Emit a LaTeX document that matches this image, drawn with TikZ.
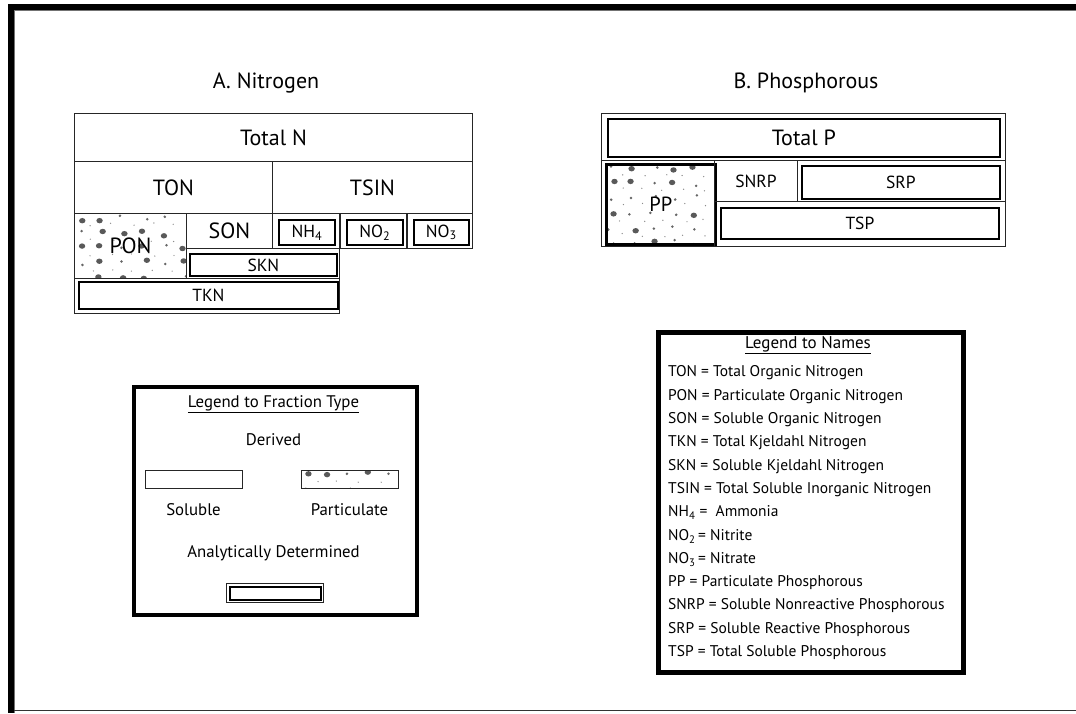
\documentclass[tikz,border=0pt]{standalone}
\usepackage{fontspec}
\setmainfont{PT Sans}
\newcommand\fsz[1]{\fontsize{#1}{#1}\selectfont}
\newcommand\speckle[5]{%
  \begin{scope}
  \clip (#1,#2) rectangle (#3,#4);
  \pgfmathsetmacro\sxa{#1+7}\pgfmathsetmacro\sxb{#1+28}%
  \pgfmathsetmacro\sya{#2+5}\pgfmathsetmacro\syb{#2+20}%
  \foreach \gx in {\sxa,\sxb,...,#3}{%
    \foreach \gy in {\sya,\syb,...,#4}{%
      \pgfmathsetmacro\px{\gx+8*rnd-4}%
      \pgfmathsetmacro\py{\gy+6*rnd-3}%
      \pgfmathsetmacro\qx{\gx+10+6*rnd-3}%
      \pgfmathsetmacro\qy{\gy+7+4*rnd-2}%
      \pgfmathsetmacro\rr{rnd}%
      \ifdim\rr pt<#5pt
        \fill[black!65] (\px,\py) ellipse (3.2pt and 2.7pt);
      \else
        \fill[black!60] (\px,\py) circle (1.4pt);
      \fi
      \fill[black!45] (\qx,\qy) circle (0.7pt);
    }}
  \end{scope}}
\begin{document}
\begin{tikzpicture}[x=1pt,y=-1pt,
  cell/.style={draw=black!85, line width=1pt, inner sep=0pt, anchor=north west},
  anal/.style={draw=black, line width=1.8pt, inner sep=0pt, anchor=north west},
  thickbox/.style={draw=black, inner sep=0pt, anchor=north west},
  big/.style={font=\fsz{22}},
  mid/.style={font=\fsz{17.5}},
  leg/.style={font=\fsz{15.5}, inner sep=0pt},
  legl/.style={font=\fsz{16.8}, inner sep=0pt}
]
\useasboundingbox (0,0) rectangle (1076,713);
\pgfmathsetseed{11}
% frame
\fill[black] (8,4) rectangle (1076,10);
\fill[black] (8,4) rectangle (14,713);
\draw[black!55, line width=1.2pt] (14.6,713) -- (14.6,10.6) -- (1076,10.6);
\draw[black!80, line width=1.3pt] (14,710.8) -- (1076,710.8);

% ---------------- Nitrogen
\node[font=\fsz{22}] (ttlA) at (266,83) {A. Nitrogen};
\node[cell, big, minimum width=398, minimum height=48] (totn) at (74,113) {Total N};
\node[cell, big, minimum width=198, minimum height=52] (ton) at (74,161) {TON};
\node[cell, big, minimum width=200, minimum height=52] (tsin) at (272,161) {TSIN};
\speckle{74}{213}{186}{278}{0.45}
\node[cell, big, minimum width=112, minimum height=65] (pon) at (74,213) {PON};
\node[cell, big, minimum width=86, minimum height=35] (son) at (186,213) {SON};
\node[cell, minimum width=67, minimum height=35] (nh4o) at (272,213) {};
\node[anal, mid, minimum width=56, minimum height=25] (nh4) at (278,219) {NH\textsubscript{4}};
\node[cell, minimum width=66, minimum height=35] (no2o) at (340,213) {};
\node[anal, mid, minimum width=56, minimum height=25] (no2) at (346,219) {NO\textsubscript{2}};
\node[cell, minimum width=65, minimum height=35] (no3o) at (407,213) {};
\node[anal, mid, minimum width=55, minimum height=25] (no3) at (413,219) {NO\textsubscript{3}};
\node[cell, minimum width=153, minimum height=30] (skno) at (186,248) {};
\node[anal, mid, minimum width=147, minimum height=22] (skn) at (189,253) {SKN};
\node[cell, minimum width=265, minimum height=35] (tkno) at (74,278) {};
\node[anal, mid, minimum width=259, minimum height=27] (tkn) at (78,281) {TKN};

% ---------------- Phosphorous
\node[font=\fsz{22}] (ttlB) at (806,83) {B. Phosphorous};
\node[cell, minimum width=404, minimum height=47] (totpo) at (601,113) {};
\node[anal, big, minimum width=392, minimum height=38] (totp) at (607,118) {Total P};
\node[cell, minimum width=404, minimum height=86] (prow) at (601,160) {};
\speckle{605}{163}{714}{243}{0.45}
\node[thickbox, line width=2.6pt, font=\fsz{20.5}, minimum width=109, minimum height=80] (pp) at (605,163) {PP};
\node[cell, mid, minimum width=83, minimum height=41] (snrp) at (714,160) {SNRP};
\node[cell, minimum width=208, minimum height=41] (srpo) at (797,160) {};
\node[anal, mid, minimum width=198, minimum height=33] (srp) at (801,165) {SRP};
\node[cell, minimum width=291, minimum height=45] (tspo) at (714,201) {};
\node[anal, mid, minimum width=278, minimum height=31] (tsp) at (720,207) {TSP};

% ---------------- Legend to fraction type
\node[thickbox, line width=4pt, minimum width=283, minimum height=228] (legF) at (132,385) {};
\node[legl] (legFt) at (273.5,404) {\underline{Legend to Fraction Type}};
\node[legl] (der) at (273.5,440) {Derived};
\node[cell, minimum width=97, minimum height=18] (solb) at (145,470) {};
\speckle{301}{470}{398}{488}{0.4}
\node[cell, minimum width=97, minimum height=18] (parb) at (301,470) {};
\node[legl] (sol) at (193.5,510) {Soluble};
\node[legl] (par) at (349.5,510) {Particulate};
\node[legl] (ana) at (273.5,553) {Analytically Determined};
\node[cell, minimum width=97, minimum height=19] (anao) at (226,583) {};
\node[anal, minimum width=91, minimum height=13] (anai) at (229,586) {};

% ---------------- Legend to names
\node[thickbox, line width=5pt, minimum width=304.7, minimum height=340] (legN) at (655.8,329.5) {};
\node[leg, font=\fsz{17}] (legNt) at (808,345) {\underline{Legend to Names}};
\begin{scope}[every node/.style={leg, anchor=west}]
\node (n1) at (668,373) {TON = Total Organic Nitrogen};
\node (n2) at (668,396.3) {PON = Particulate Organic Nitrogen};
\node (n3) at (668,419.6) {SON = Soluble Organic Nitrogen};
\node (n4) at (668,442.9) {TKN = Total Kjeldahl Nitrogen};
\node (n5) at (668,466.2) {SKN = Soluble Kjeldahl Nitrogen};
\node (n6) at (668,489.5) {TSIN = Total Soluble Inorganic Nitrogen};
\node (n7) at (668,512.8) {NH\textsubscript{4} = \ Ammonia};
\node (n8) at (668,536.1) {NO\textsubscript{2}\,= Nitrite};
\node (n9) at (668,559.4) {NO\textsubscript{3}\,= Nitrate};
\node (n10) at (668,582.7) {PP = Particulate Phosphorous};
\node (n11) at (668,606) {SNRP = Soluble Nonreactive Phosphorous};
\node (n12) at (668,629.3) {SRP = Soluble Reactive Phosphorous};
\node (n13) at (668,652.6) {TSP = Total Soluble Phosphorous};
\end{scope}
\end{tikzpicture}
\end{document}
